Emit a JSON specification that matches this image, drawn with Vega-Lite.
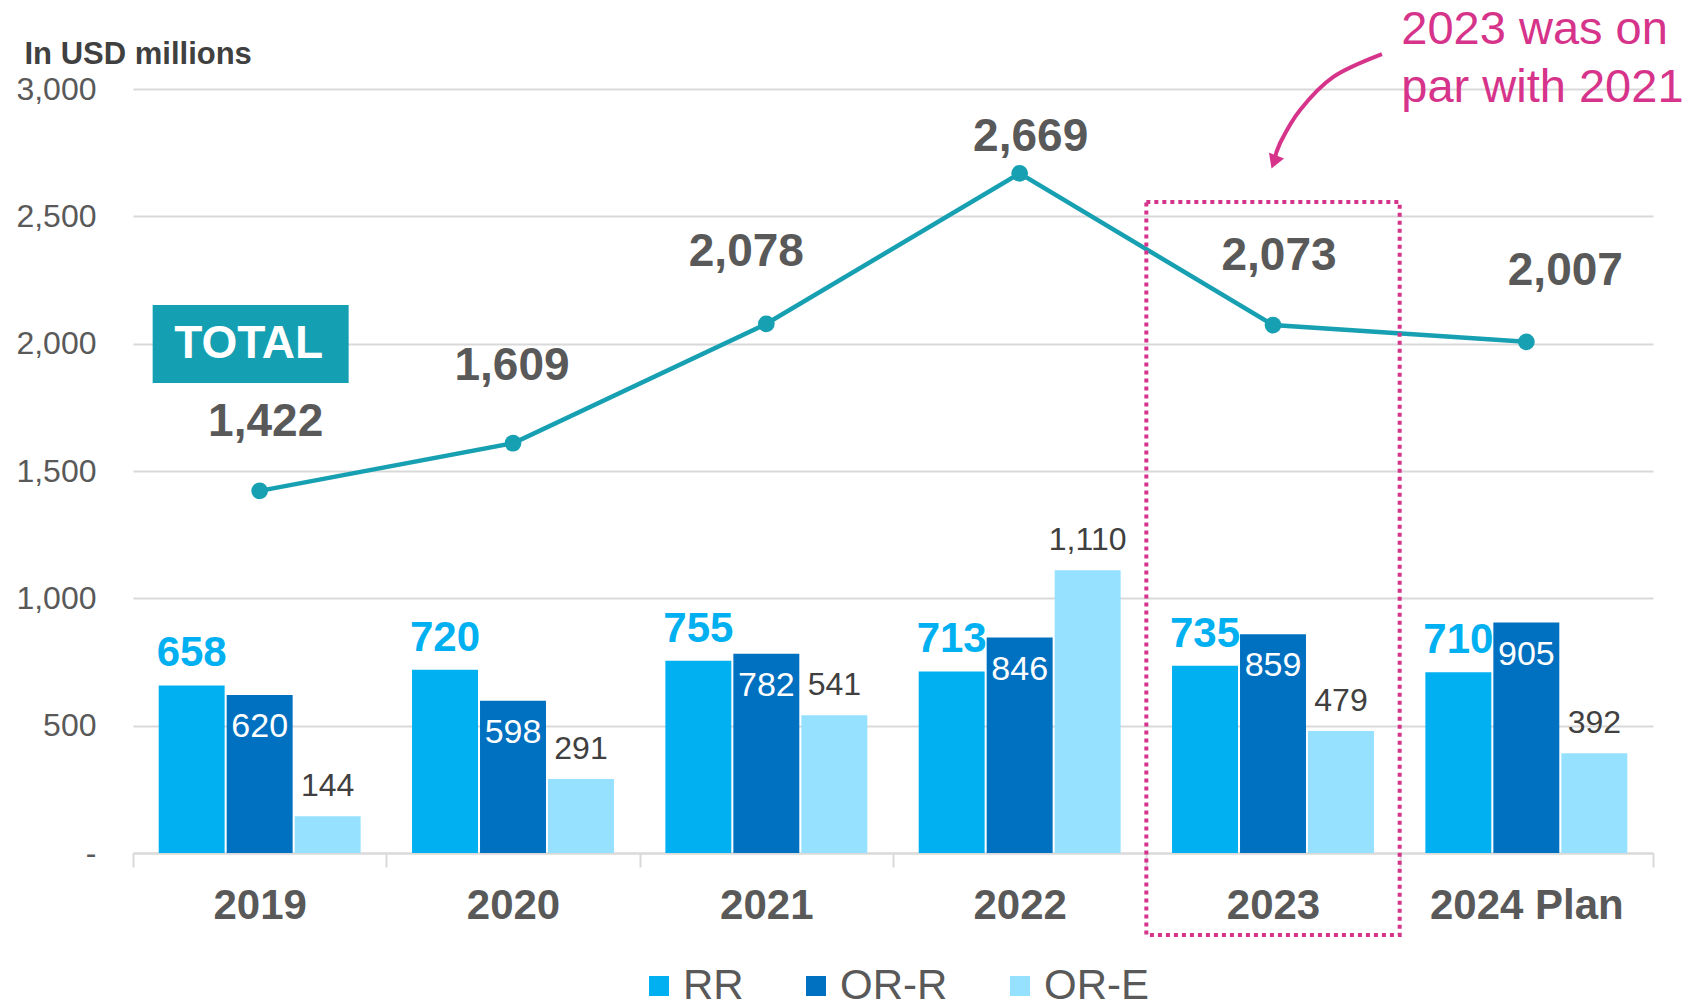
{
  "$schema": "https://vega.github.io/schema/vega-lite/v6.json",
  "width": 1520,
  "height": 764,
  "autosize": "none",
  "padding": {"left": 133, "top": 89, "right": 51, "bottom": 155},
  "background": "white",
  "config": {"font": "Liberation Sans", "view": {"stroke": null}},
  "datasets": {
    "bars": [
      {"year": "2019", "series": "RR", "value": 658},
      {"year": "2019", "series": "OR-R", "value": 620},
      {"year": "2019", "series": "OR-E", "value": 144},
      {"year": "2020", "series": "RR", "value": 720},
      {"year": "2020", "series": "OR-R", "value": 598},
      {"year": "2020", "series": "OR-E", "value": 291},
      {"year": "2021", "series": "RR", "value": 755},
      {"year": "2021", "series": "OR-R", "value": 782},
      {"year": "2021", "series": "OR-E", "value": 541},
      {"year": "2022", "series": "RR", "value": 713},
      {"year": "2022", "series": "OR-R", "value": 846},
      {"year": "2022", "series": "OR-E", "value": 1110},
      {"year": "2023", "series": "RR", "value": 735},
      {"year": "2023", "series": "OR-R", "value": 859},
      {"year": "2023", "series": "OR-E", "value": 479},
      {"year": "2024 Plan", "series": "RR", "value": 710},
      {"year": "2024 Plan", "series": "OR-R", "value": 905},
      {"year": "2024 Plan", "series": "OR-E", "value": 392}
    ],
    "totals": [
      {"year": "2019", "total": 1422},
      {"year": "2020", "total": 1609},
      {"year": "2021", "total": 2078},
      {"year": "2022", "total": 2669},
      {"year": "2023", "total": 2073},
      {"year": "2024 Plan", "total": 2007}
    ],
    "arrow": [
      {"i": 0, "u": 4.930, "v": 3137},
      {"i": 1, "u": 4.737, "v": 3047},
      {"i": 2, "u": 4.607, "v": 2918},
      {"i": 3, "u": 4.528, "v": 2788},
      {"i": 4, "u": 4.504, "v": 2713}
    ],
    "arrowhead": [{"u": 4.504, "v": 2713}]
  },
  "layer": [
    {
      "encoding": {
        "x": {
          "field": "year",
          "type": "nominal",
          "scale": {"domain": ["2019", "2020", "2021", "2022", "2023", "2024 Plan"], "paddingInner": 0, "paddingOuter": 0},
          "axis": {
            "title": null,
            "labelAngle": 0,
            "labelFontSize": 42,
            "labelFontWeight": "bold",
            "labelColor": "#595959",
            "labelPadding": 18,
            "labelLimit": 0,
            "domainColor": "#D9D9D9",
            "domainWidth": 2,
            "tickColor": "#D9D9D9",
            "tickWidth": 2,
            "tickSize": 14,
            "tickBand": "extent"
          }
        }
      },
      "layer": [
        {
          "data": {"name": "bars"},
          "mark": {"type": "bar"},
          "encoding": {
            "xOffset": {"field": "series", "type": "nominal", "scale": {"domain": ["RR", "OR-R", "OR-E"], "paddingInner": 0.03, "paddingOuter": 0.378}},
            "y": {
              "field": "value",
              "type": "quantitative",
              "scale": {"domain": [0, 3000], "nice": false},
              "axis": {
                "values": [0, 500, 1000, 1500, 2000, 2500, 3000],
                "labelExpr": "datum.value === 0 ? '-' : datum.label",
                "domain": false,
                "ticks": false,
                "grid": true,
                "gridColor": "#D9D9D9",
                "gridWidth": 2,
                "labelFontSize": 32,
                "labelColor": "#595959",
                "labelPadding": 37,
                "title": "In USD millions",
                "titleAngle": 0,
                "titleAlign": "left",
                "titleBaseline": "alphabetic",
                "titleX": -109,
                "titleY": -26,
                "titleFontSize": 31,
                "titleFontWeight": "bold",
                "titleColor": "#404040"
              }
            },
            "color": {
              "field": "series",
              "type": "nominal",
              "scale": {"domain": ["RR", "OR-R", "OR-E"], "range": ["#00B0F0", "#0070C0", "#95E1FF"]},
              "legend": {
                "orient": "none",
                "direction": "horizontal",
                "legendX": 505,
                "legendY": 876,
                "title": null,
                "symbolType": "square",
                "symbolSize": 400,
                "symbolStrokeWidth": 0,
                "labelFontSize": 42,
                "labelColor": "#595959",
                "labelOffset": 3,
                "columnPadding": 51,
                "padding": 0
              }
            }
          }
        },
        {
          "data": {"name": "bars"},
          "transform": [{"filter": "datum.series === 'RR'"}],
          "mark": {"type": "text", "fontSize": 42, "fontWeight": "bold", "color": "#00B0F0", "baseline": "middle", "dy": -32},
          "encoding": {
            "xOffset": {"field": "series", "type": "nominal"},
            "y": {"field": "value", "type": "quantitative"},
            "text": {"field": "value", "type": "quantitative", "format": ","}
          }
        },
        {
          "data": {"name": "bars"},
          "transform": [{"filter": "datum.series === 'OR-R'"}],
          "mark": {"type": "text", "fontSize": 34, "color": "white", "baseline": "middle", "dy": 32},
          "encoding": {
            "xOffset": {"field": "series", "type": "nominal"},
            "y": {"field": "value", "type": "quantitative"},
            "text": {"field": "value", "type": "quantitative", "format": ","}
          }
        },
        {
          "data": {"name": "bars"},
          "transform": [{"filter": "datum.series === 'OR-E'"}],
          "mark": {"type": "text", "fontSize": 32, "color": "#404040", "baseline": "middle", "dy": -30},
          "encoding": {
            "xOffset": {"field": "series", "type": "nominal"},
            "y": {"field": "value", "type": "quantitative"},
            "text": {"field": "value", "type": "quantitative", "format": ","}
          }
        },
        {
          "data": {"name": "totals"},
          "mark": {"type": "line", "color": "#17A0B2", "strokeWidth": 4.5, "point": {"filled": true, "size": 280, "color": "#17A0B2"}},
          "encoding": {
            "y": {"field": "total", "type": "quantitative"}
          }
        },
        {
          "data": {"name": "totals"},
          "transform": [{"filter": "datum.year === '2019' || datum.year === '2023'"}],
          "mark": {"type": "text", "fontSize": 46, "fontWeight": "bold", "color": "#595959", "baseline": "middle", "dx": 6, "dy": -69},
          "encoding": {"y": {"field": "total", "type": "quantitative"}, "text": {"field": "total", "type": "quantitative", "format": ","}}
        },
        {
          "data": {"name": "totals"},
          "transform": [{"filter": "datum.year === '2020'"}],
          "mark": {"type": "text", "fontSize": 46, "fontWeight": "bold", "color": "#595959", "baseline": "middle", "dx": -1, "dy": -77},
          "encoding": {"y": {"field": "total", "type": "quantitative"}, "text": {"field": "total", "type": "quantitative", "format": ","}}
        },
        {
          "data": {"name": "totals"},
          "transform": [{"filter": "datum.year === '2021'"}],
          "mark": {"type": "text", "fontSize": 46, "fontWeight": "bold", "color": "#595959", "baseline": "middle", "dx": -20, "dy": -72},
          "encoding": {"y": {"field": "total", "type": "quantitative"}, "text": {"field": "total", "type": "quantitative", "format": ","}}
        },
        {
          "data": {"name": "totals"},
          "transform": [{"filter": "datum.year === '2022'"}],
          "mark": {"type": "text", "fontSize": 46, "fontWeight": "bold", "color": "#595959", "baseline": "middle", "dx": 11, "dy": -36},
          "encoding": {"y": {"field": "total", "type": "quantitative"}, "text": {"field": "total", "type": "quantitative", "format": ","}}
        },
        {
          "data": {"name": "totals"},
          "transform": [{"filter": "datum.year === '2024 Plan'"}],
          "mark": {"type": "text", "fontSize": 46, "fontWeight": "bold", "color": "#595959", "baseline": "middle", "dx": 39, "dy": -71},
          "encoding": {"y": {"field": "total", "type": "quantitative"}, "text": {"field": "total", "type": "quantitative", "format": ","}}
        },
        {
          "data": {"values": [{"year": "2019", "label": "TOTAL"}]},
          "mark": {"type": "bar", "width": 196, "color": "#14A0B2", "xOffset": -9},
          "encoding": {"y": {"datum": 2152}, "y2": {"datum": 1846}}
        },
        {
          "data": {"values": [{"year": "2019", "label": "TOTAL"}]},
          "mark": {"type": "text", "fontSize": 46, "fontWeight": "bold", "color": "white", "baseline": "middle", "dx": -11},
          "encoding": {"y": {"datum": 1999}, "text": {"field": "label", "type": "nominal"}}
        },
        {
          "data": {"values": [{"year": "2023"}]},
          "mark": {"type": "rect", "fillOpacity": 0, "stroke": "#D6338A", "strokeWidth": 4, "strokeDash": [4, 4]},
          "encoding": {"y": {"datum": 2556}, "y2": {"datum": -322}}
        },
        {
          "data": {"values": [{"year": "2024 Plan", "note": "2023 was on\npar with 2021"}]},
          "mark": {"type": "text", "fontSize": 47, "color": "#D6338A", "align": "left", "baseline": "alphabetic", "lineBreak": "\n", "lineHeight": 58, "dx": -125},
          "encoding": {"y": {"datum": 3177}, "text": {"field": "note", "type": "nominal"}}
        }
      ]
    },
    {
      "data": {"name": "arrow"},
      "mark": {"type": "line", "color": "#D6338A", "strokeWidth": 4, "interpolate": "cardinal"},
      "encoding": {
        "x": {"field": "u", "type": "quantitative", "scale": {"domain": [0, 6], "nice": false, "zero": false}, "axis": null},
        "y": {"field": "v", "type": "quantitative", "scale": {"domain": [0, 3000], "nice": false}},
        "order": {"field": "i", "type": "quantitative"}
      }
    },
    {
      "data": {"name": "arrowhead"},
      "mark": {"type": "point", "shape": "triangle-down", "filled": true, "color": "#D6338A", "size": 260, "angle": 21, "opacity": 1},
      "encoding": {
        "x": {"field": "u", "type": "quantitative", "scale": {"domain": [0, 6], "nice": false, "zero": false}, "axis": null},
        "y": {"field": "v", "type": "quantitative", "scale": {"domain": [0, 3000], "nice": false}}
      }
    }
  ],
  "resolve": {"scale": {"x": "independent"}}
}
